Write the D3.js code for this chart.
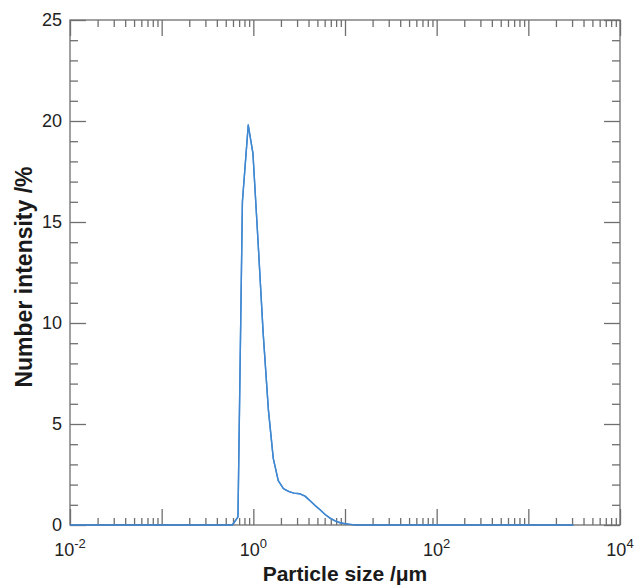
<!DOCTYPE html>
<html>
<head>
<meta charset="utf-8">
<script src="https://cdn.jsdelivr.net/npm/d3@7"></script>
<style>
  body { margin: 0; background: #fff; }
  svg { display: block; font-family: "Liberation Sans", Arial, sans-serif; }
</style>
</head>
<body>
<svg id="chart"></svg>
<script>
// particle size (um) and number intensity (%)
const sizes = [0.01, 0.59, 0.68, 0.76, 0.88, 0.99, 1.13, 1.28, 1.46, 1.65, 1.87, 2.13, 2.45, 2.78,
  3.19, 3.66, 4.16, 4.72, 5.35, 6.07, 6.87, 7.79, 8.83, 10, 11.35, 13.2, 3100];
const intensity = [0, 0, 0.4, 16.0, 19.8, 18.4, 13.9, 9.5, 5.7, 3.3, 2.2, 1.8, 1.65, 1.58,
  1.55, 1.43, 1.2, 0.97, 0.75, 0.52, 0.34, 0.2, 0.11, 0.06, 0.03, 0, 0];

const yMajor = [0, 5, 10, 15, 20, 25];
const xLabelExps = [-2, 0, 2, 4];

const width = 635, height = 587;
const margin = {top: 20, right: 15, bottom: 62, left: 70};
const axisColor = '#6f6f6f';

const svg = d3.select('#chart').attr('width', width).attr('height', height);

const x = d3.scaleLog().domain([1e-2, 1e4]).range([margin.left, width - margin.right]);
const y = d3.scaleLinear().domain([0, 25]).range([height - margin.bottom, margin.top]);

// tick values
const xMajorVals = d3.range(-2, 5).map(e => Math.pow(10, e));
const xMinorVals = [];
for (let e = -2; e < 4; e++) {
  for (let m = 2; m <= 9; m++) xMinorVals.push(m * Math.pow(10, e));
}
const yMinorVals = d3.range(0, 26).filter(v => v % 5 !== 0);

function styleAxis(g) {
  g.select('.domain').remove();
  g.selectAll('line').attr('stroke', axisColor).attr('stroke-width', 1.3);
  g.selectAll('text').remove();
}

const x0 = height - margin.bottom, x1 = margin.top;
// bottom / top ticks (pointing inward)
svg.append('g').attr('transform', `translate(0,${x0})`)
  .call(d3.axisBottom(x).tickValues(xMajorVals).tickSize(-16)).call(styleAxis);
svg.append('g').attr('transform', `translate(0,${x0})`)
  .call(d3.axisBottom(x).tickValues(xMinorVals).tickSize(-7)).call(styleAxis);
svg.append('g').attr('transform', `translate(0,${x1})`)
  .call(d3.axisTop(x).tickValues(xMajorVals).tickSize(-16)).call(styleAxis);
svg.append('g').attr('transform', `translate(0,${x1})`)
  .call(d3.axisTop(x).tickValues(xMinorVals).tickSize(-7)).call(styleAxis);

// left / right ticks
const yl = margin.left, yr = width - margin.right;
svg.append('g').attr('transform', `translate(${yl},0)`)
  .call(d3.axisLeft(y).tickValues(yMajor).tickSize(-16)).call(styleAxis);
svg.append('g').attr('transform', `translate(${yl},0)`)
  .call(d3.axisLeft(y).tickValues(yMinorVals).tickSize(-8)).call(styleAxis);
svg.append('g').attr('transform', `translate(${yr},0)`)
  .call(d3.axisRight(y).tickValues(yMajor).tickSize(-16)).call(styleAxis);
svg.append('g').attr('transform', `translate(${yr},0)`)
  .call(d3.axisRight(y).tickValues(yMinorVals).tickSize(-8)).call(styleAxis);

// the line
const line = d3.line()
  .x((d, i) => x(sizes[i]))
  .y(d => y(d));

svg.append('path')
  .datum(intensity)
  .attr('d', line)
  .attr('fill', 'none')
  .attr('stroke', '#3f87d1')
  .attr('stroke-width', 1.4)
  .attr('stroke-linejoin', 'round');

// frame
svg.append('rect')
  .attr('x', margin.left).attr('y', margin.top)
  .attr('width', width - margin.left - margin.right)
  .attr('height', height - margin.top - margin.bottom)
  .attr('fill', 'none').attr('stroke', axisColor).attr('stroke-width', 1.3);

// redraw line bottom part over frame (line sits on baseline)
svg.append('path')
  .datum(intensity)
  .attr('d', line)
  .attr('fill', 'none')
  .attr('stroke', '#3f87d1')
  .attr('stroke-width', 1.4)
  .attr('stroke-linejoin', 'round');

// y tick labels
svg.append('g').selectAll('text')
  .data(yMajor)
  .join('text')
  .attr('x', margin.left - 8)
  .attr('y', d => y(d))
  .attr('dy', '0.36em')
  .attr('text-anchor', 'end')
  .attr('font-size', 18)
  .attr('fill', '#222')
  .text(d => d);

// x tick labels with superscripts
const xl = svg.append('g').selectAll('text')
  .data(xLabelExps)
  .join('text')
  .attr('x', d => x(Math.pow(10, d)))
  .attr('y', height - margin.bottom + 31)
  .attr('text-anchor', 'middle')
  .attr('font-size', 18)
  .attr('fill', '#222');
xl.append('tspan').text('10');
xl.append('tspan').attr('font-size', 13).attr('dy', -8).text(d => d);

// axis titles
svg.append('text')
  .attr('x', (margin.left + width - margin.right) / 2)
  .attr('y', 581)
  .attr('text-anchor', 'middle')
  .attr('font-size', 21)
  .attr('font-weight', 'bold')
  .attr('fill', '#1a1a1a')
  .text('Particle size /\u03bcm');

svg.append('text')
  .attr('transform', `translate(32,277) rotate(-90)`)
  .attr('text-anchor', 'middle')
  .attr('font-size', 23)
  .attr('font-weight', 'bold')
  .attr('fill', '#1a1a1a')
  .text('Number intensity /%');
</script>
</body>
</html>
